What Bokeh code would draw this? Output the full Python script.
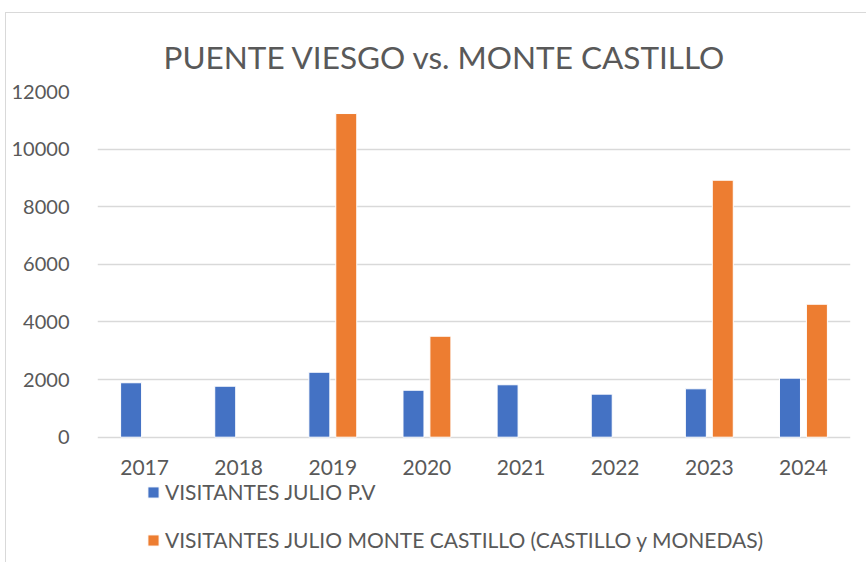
from bokeh.plotting import figure
from bokeh.models import FactorRange, Range1d, FixedTicker, Legend, LegendItem, ColumnDataSource
from bokeh.transform import dodge
from bokeh.core.properties import value
from bokeh.embed import file_html
from bokeh.resources import INLINE

years = ["2017", "2018", "2019", "2020", "2021", "2022", "2023", "2024"]
visitantes_pv = [1890, 1770, 2255, 1630, 1820, 1495, 1680, 2050]
visitantes_mc = [None, None, 11235, 3505, None, None, 8920, 4615]
y_ticks = [0, 2000, 4000, 6000, 8000, 10000, 12000]
title_text = "PUENTE VIESGO vs. MONTE CASTILLO"
label_pv = "VISITANTES JULIO P.V"
label_mc = "VISITANTES JULIO MONTE CASTILLO (CASTILLO y MONEDAS)"

BLUE = "#4472C4"
ORANGE = "#ED7D31"
GRAY = "#595959"
GRID = "#d9d9d9"
FONT = "Lato"

# layout geometry (figure pixels)
W, H = 861, 550
TOP_PX, ZERO_PX, BOTTOM_PX = 78, 423.7, 550
Y_MAX = 12000
y_min = -Y_MAX * (BOTTOM_PX - ZERO_PX) / (ZERO_PX - TOP_PX)
label_offset_px = 30
label_y = -Y_MAX * label_offset_px / (ZERO_PX - TOP_PX)

src_pv = ColumnDataSource(dict(x=years, top=visitantes_pv))
mc_years = [y for y, v in zip(years, visitantes_mc) if v is not None]
mc_vals = [v for v in visitantes_mc if v is not None]
src_mc = ColumnDataSource(dict(x=mc_years, top=mc_vals))

p = figure(x_range=FactorRange(*years), y_range=Range1d(y_min, Y_MAX),
           width=W, height=H, output_backend="svg", toolbar_location=None,
           min_border_left=91, min_border_right=17, min_border_top=TOP_PX, min_border_bottom=0)
p.styles = {"margin-left": "5px", "margin-top": "12px",
            "border-left": "1px solid #d9d9d9", "border-top": "1px solid #d9d9d9"}

r1 = p.vbar(x=dodge("x", -0.143, range=p.x_range), top="top", width=0.223, source=src_pv,
            fill_color=BLUE, line_color="white", line_width=1)
r2 = p.vbar(x=dodge("x", 0.143, range=p.x_range), top="top", width=0.223, source=src_mc,
            fill_color=ORANGE, line_color="white", line_width=1)

# category labels under the zero line
p.text(x=years, y=[label_y] * len(years), text=years, text_font=value(FONT),
       text_font_size="21px", text_color=GRAY, text_align="center", text_baseline="middle")

p.title.text = title_text
p.title.text_font = FONT
p.title.text_font_size = "31.5px"
p.title.text_font_style = "normal"
p.title.text_color = GRAY
p.title.align = "left"
p.title.offset = 66
p.title.standoff = 32

p.outline_line_color = None
p.xgrid.grid_line_color = None
p.xaxis.visible = False
p.ygrid.grid_line_color = GRID
p.ygrid.grid_line_width = 1.5
p.yaxis.ticker = FixedTicker(ticks=y_ticks)
p.yaxis.axis_line_color = None
p.yaxis.major_tick_line_color = None
p.yaxis.minor_tick_line_color = None
p.yaxis.major_label_text_font = FONT
p.yaxis.major_label_text_color = GRAY
p.yaxis.major_label_text_font_size = "20px"
p.yaxis.major_label_standoff = 22

legend = Legend(items=[LegendItem(label=label_pv, renderers=[r1]),
                       LegendItem(label=label_mc, renderers=[r2])],
                location=(49, 11), orientation="vertical",
                label_text_font=FONT, label_text_font_size="21px", label_text_color=GRAY,
                glyph_width=14, glyph_height=14, label_height=22, spacing=23,
                label_standoff=5, padding=0, margin=0,
                border_line_color=None, background_fill_alpha=0)
p.add_layout(legend, "center")

open("out.html", "w").write(file_html(p, INLINE))
